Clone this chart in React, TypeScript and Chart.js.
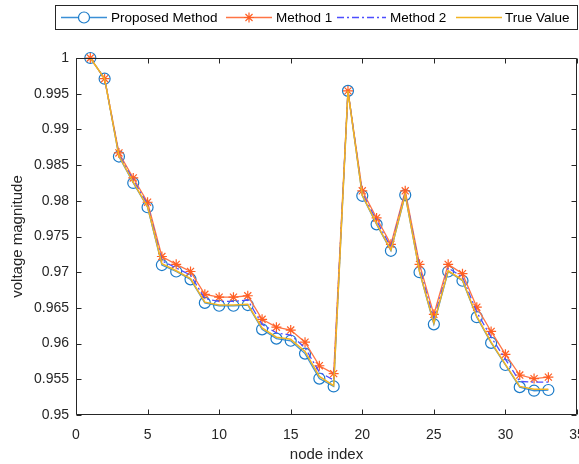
import React, { useEffect, useRef } from 'react';
import { Chart, registerables } from 'chart.js';

Chart.register(...registerables);

const nodeIndex = [1, 2, 3, 4, 5, 6, 7, 8, 9, 10, 11, 12, 13, 14, 15, 16, 17, 18, 19, 20, 21, 22, 23, 24, 25, 26, 27, 28, 29, 30, 31, 32, 33];

const proposed = [1.0, 0.9971, 0.9862, 0.9825, 0.9791, 0.971, 0.9701, 0.969, 0.9657, 0.9653, 0.9653, 0.9654, 0.962, 0.9607, 0.9604, 0.9586, 0.9551, 0.954, 0.9954, 0.9807, 0.9767, 0.973, 0.9808, 0.97, 0.9627, 0.9701, 0.9688, 0.9637, 0.9601, 0.957, 0.9539, 0.9534, 0.9535];

const method1 = [1.0, 0.9971, 0.9867, 0.9832, 0.9798, 0.9722, 0.9711, 0.9701, 0.9669, 0.9665, 0.9665, 0.9667, 0.9634, 0.9623, 0.9619, 0.9602, 0.9569, 0.9558, 0.9954, 0.9814, 0.9776, 0.9739, 0.9814, 0.9711, 0.9641, 0.9711, 0.9698, 0.9651, 0.9617, 0.9585, 0.9556, 0.9551, 0.9553];

const method2 = [1.0, 0.9971, 0.9865, 0.9829, 0.9795, 0.9716, 0.9706, 0.9696, 0.9663, 0.9659, 0.9659, 0.9661, 0.9627, 0.9615, 0.9612, 0.9594, 0.956, 0.9549, 0.9954, 0.9811, 0.9772, 0.9735, 0.9811, 0.9706, 0.9634, 0.9706, 0.9693, 0.9644, 0.9609, 0.9578, 0.9547, 0.9546, 0.9546];

const trueValue = [1.0, 0.9971, 0.9863, 0.9826, 0.9792, 0.9712, 0.9702, 0.9691, 0.9658, 0.9654, 0.9654, 0.9655, 0.9622, 0.9609, 0.9606, 0.9589, 0.9554, 0.9541, 0.9954, 0.9808, 0.9768, 0.9731, 0.9809, 0.9701, 0.9629, 0.9702, 0.9689, 0.9638, 0.9602, 0.9571, 0.954, 0.9536, 0.9536];

const seriesNames = ['Proposed Method', 'Method 1', 'Method 2', 'True Value'];

const xTicks = [0, 5, 10, 15, 20, 25, 30, 35];
const xTickLabels = ['0', '5', '10', '15', '20', '25', '30', '35'];
const yTicks = [0.95, 0.955, 0.96, 0.965, 0.97, 0.975, 0.98, 0.985, 0.99, 0.995, 1];
const yTickLabels = ['0.95', '0.955', '0.96', '0.965', '0.97', '0.975', '0.98', '0.985', '0.99', '0.995', '1'];

const xTitle = 'node index';
const yTitle = 'voltage magnitude';

const FONT = "'Liberation Sans', Arial, Helvetica, sans-serif";
const TEXT = '#262626';
const C_PROP_LINE = '#3A8FD6';
const C_PROP = '#1B7BC8';
const C_M1_LINE = '#FF7444';
const C_M1 = '#FF5F24';
const C_M2 = '#4D4DFF';
const C_TRUE = '#F2B422';
const PLOT_RIGHT = 577;

const framePlugin = {
  id: 'matlabFrame',
  afterLayout(chart: any) {
    const ca = chart.chartArea;
    ca.right = PLOT_RIGHT;
    ca.width = ca.right - ca.left;
    const xs = chart.scales.x;
    xs.right = PLOT_RIGHT;
    xs.width = PLOT_RIGHT - xs.left;
    xs.configure();
  },
  afterDraw(chart: any) {
    const { ctx, chartArea } = chart;
    const xs = chart.scales.x;
    const ys = chart.scales.y;
    const L = Math.round(chartArea.left) + 0.5;
    const R = Math.round(chartArea.right) - 0.5;
    const T = Math.round(chartArea.top) + 0.5;
    const B = Math.round(chartArea.bottom) - 0.5;
    ctx.save();
    ctx.strokeStyle = TEXT;
    ctx.lineWidth = 1;
    ctx.beginPath();
    ctx.moveTo(L, T); ctx.lineTo(R, T); ctx.lineTo(R, B); ctx.lineTo(L, B); ctx.closePath();
    const tl = 5;
    xTicks.forEach((v) => {
      const p = Math.round(xs.getPixelForValue(v)) + 0.5;
      ctx.moveTo(p, B); ctx.lineTo(p, B - tl);
      ctx.moveTo(p, T); ctx.lineTo(p, T + tl);
    });
    yTicks.forEach((v) => {
      const p = Math.round(ys.getPixelForValue(v)) + 0.5;
      ctx.moveTo(L, p); ctx.lineTo(L + tl, p);
      ctx.moveTo(R, p); ctx.lineTo(R - tl, p);
    });
    ctx.stroke();

    // legend
    const x0 = 55.5, y0 = 5.5, x1 = 577.5, y1 = 29.5;
    ctx.fillStyle = '#ffffff';
    ctx.fillRect(x0, y0, x1 - x0, y1 - y0);
    ctx.strokeStyle = TEXT;
    ctx.lineWidth = 1;
    ctx.strokeRect(x0, y0, x1 - x0, y1 - y0);
    const cy = (y0 + y1) / 2;
    const items = [
      { a: 61, b: 107, t: 111, color: C_PROP_LINE, mcolor: C_PROP, dash: [] as number[], marker: 'circle' },
      { a: 226, b: 272, t: 276, color: C_M1_LINE, mcolor: C_M1, dash: [] as number[], marker: 'star' },
      { a: 337, b: 386, t: 390, color: C_M2, mcolor: C_M2, dash: [7, 3, 2, 3], marker: '' },
      { a: 456, b: 502, t: 505, color: C_TRUE, mcolor: C_TRUE, dash: [] as number[], marker: '' },
    ];
    ctx.font = `13.5px ${FONT}`;
    ctx.textBaseline = 'middle';
    ctx.textAlign = 'left';
    items.forEach((it, i) => {
      ctx.strokeStyle = it.color;
      ctx.lineWidth = 1.3;
      ctx.setLineDash(it.dash);
      ctx.beginPath();
      ctx.moveTo(it.a, cy); ctx.lineTo(it.b, cy);
      ctx.stroke();
      ctx.setLineDash([]);
      const mx = (it.a + it.b) / 2;
      ctx.strokeStyle = it.mcolor;
      if (it.marker === 'circle') {
        ctx.lineWidth = 1.2;
        ctx.beginPath();
        ctx.arc(mx, cy, 5.5, 0, Math.PI * 2);
        ctx.fillStyle = '#fff';
        ctx.fill();
        ctx.stroke();
      } else if (it.marker === 'star') {
        const r = 5;
        ctx.lineWidth = 1.2;
        ctx.beginPath();
        ctx.moveTo(mx - r, cy); ctx.lineTo(mx + r, cy);
        ctx.moveTo(mx, cy - r); ctx.lineTo(mx, cy + r);
        const d = r * Math.SQRT1_2;
        ctx.moveTo(mx - d, cy - d); ctx.lineTo(mx + d, cy + d);
        ctx.moveTo(mx - d, cy + d); ctx.lineTo(mx + d, cy - d);
        ctx.stroke();
      }
      ctx.fillStyle = '#000';
      ctx.fillText(seriesNames[i], it.t, cy + 0.5);
    });
    ctx.restore();
  },
};

export default function App() {
  const ref = useRef<HTMLCanvasElement>(null);
  useEffect(() => {
    const toPts = (arr: number[]) => nodeIndex.map((x, i) => ({ x, y: arr[i] }));
    const chart = new Chart(ref.current as HTMLCanvasElement, {
      type: 'line',
      data: {
        datasets: [
          {
            label: seriesNames[0], data: toPts(proposed), borderColor: C_PROP_LINE, borderWidth: 1.3,
            pointStyle: 'circle', pointRadius: 5.5, pointBorderColor: C_PROP, pointBackgroundColor: 'rgba(0,0,0,0)',
            pointBorderWidth: 1.2, order: 3, clip: false, tension: 0,
          },
          {
            label: seriesNames[1], data: toPts(method1), borderColor: C_M1_LINE, borderWidth: 1.3,
            pointStyle: 'star', pointRadius: 5, pointBorderColor: C_M1, pointBackgroundColor: C_M1,
            pointBorderWidth: 1.2, order: 2, clip: false, tension: 0,
          },
          {
            label: seriesNames[2], data: toPts(method2), borderColor: C_M2, borderWidth: 1.3,
            borderDash: [7, 3, 2, 3], pointRadius: 0, order: 1, clip: false, tension: 0,
          },
          {
            label: seriesNames[3], data: toPts(trueValue), borderColor: C_TRUE, borderWidth: 1.5,
            pointRadius: 0, order: 0, clip: false, tension: 0,
          },
        ],
      },
      options: {
        animation: false,
        responsive: false,
        devicePixelRatio: 1,
        layout: { padding: { top: 58, right: 0, left: 0, bottom: 0 } },
        plugins: { legend: { display: false }, tooltip: { enabled: false } },
        scales: {
          x: {
            type: 'linear', min: 0, max: 35,
            grid: { display: false, drawTicks: false },
            border: { display: false },
            afterBuildTicks: (s: any) => { s.ticks = xTicks.map((v) => ({ value: v })); },
            ticks: {
              autoSkip: false, maxRotation: 0, color: TEXT, padding: 12,
              font: { family: FONT, size: 14 },
              callback: (_v: any, i: number) => xTickLabels[i],
            },
            title: {
              display: true, text: xTitle, color: TEXT,
              font: { family: FONT, size: 15 }, padding: { top: 0, bottom: 0 },
            },
            afterFit: (s: any) => { s.height = 49; s.paddingLeft = 0; s.paddingRight = 0; },
          },
          y: {
            type: 'linear', min: 0.95, max: 1,
            grid: { display: false, drawTicks: false },
            border: { display: false },
            afterBuildTicks: (s: any) => { s.ticks = yTicks.map((v) => ({ value: v })); },
            ticks: {
              autoSkip: false, color: TEXT, padding: 7,
              font: { family: FONT, size: 14 },
              callback: (_v: any, i: number) => yTickLabels[i],
            },
            title: {
              display: true, text: yTitle, color: TEXT,
              font: { family: FONT, size: 15 }, padding: { top: 9, bottom: 0 },
            },
            afterFit: (s: any) => { s.width = 76; s.paddingTop = 0; s.paddingBottom = 0; },
          },
        },
      },
      plugins: [framePlugin],
    } as any);
    return () => chart.destroy();
  }, []);
  return (
    <div style={{ position: 'absolute', left: 0, top: 0, width: 579, height: 464, background: '#fff' }}>
      <canvas ref={ref} width={579} height={464} style={{ display: 'block', width: 579, height: 464 }} />
    </div>
  );
}
